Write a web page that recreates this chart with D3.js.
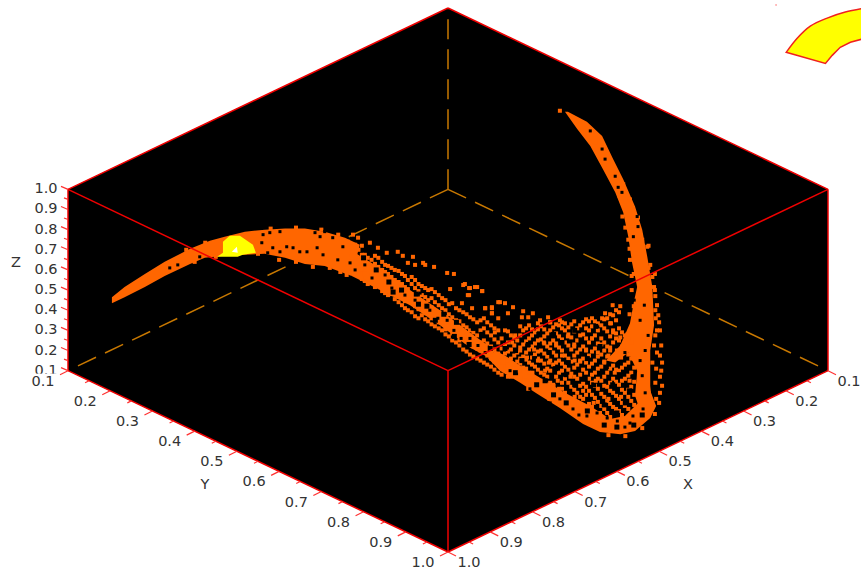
<!DOCTYPE html>
<html>
<head>
<meta charset="utf-8">
<script src="https://cdn.jsdelivr.net/npm/d3@7"></script>
<style>
    html, body { margin: 0; padding: 0; background: #fff; }
    svg { display: block; }
    text { font-family: "DejaVu Sans", sans-serif; font-size: 14.5px; fill: #333; }
</style>
</head>
<body>
<svg id="chart" width="861" height="572"></svg>
<script>
// axis ticks
const tickValues = [0.1, 0.2, 0.3, 0.4, 0.5, 0.6, 0.7, 0.8, 0.9, 1.0];
const tickLabels = ["0.1", "0.2", "0.3", "0.4", "0.5", "0.6", "0.7", "0.8", "0.9", "1.0"];
const minorValues = [0.15, 0.25, 0.35, 0.45, 0.55, 0.65, 0.75, 0.85, 0.95];

const leftBand = [[-.796,.635],[-.766,.585],[-.718,.52],[-.671,.46],[-.611,.395],[-.564,.355],[-.529,.335],[-.481,.31],[-.434,.30],[-.386,.295],[-.339,.295],[-.292,.31],[-.244,.34],[-.209,.375],[-.228,.53],[-.292,.48],[-.339,.47],[-.386,.44],[-.434,.42],[-.481,.425],[-.529,.43],[-.576,.44],[-.611,.47],[-.671,.53],[-.718,.585],[-.766,.635],[-.796,.665]];
const middleBand = [[-.232,.40],[-.161,.49],[-.09,.60],[-.019,.70],[.052,.81],[.111,.90],[.10,.94],[.052,.885],[-.019,.775],[-.09,.675],[-.161,.60],[-.228,.53]];
const bowlBand = [[.095,.94],[.123,1.0],[.171,1.06],[.211,1.115],[.265,1.185],[.32,1.265],[.36,1.305],[.408,1.315],[.443,1.30],[.479,1.235],[.493,1.175],[.479,1.10],[.455,1.15],[.419,1.225],[.384,1.24],[.337,1.175],[.277,1.11],[.218,1.035],[.171,.975],[.135,.925],[.111,.90]];
const rightBand = [[.277,-.285],[.306,-.20],[.337,-.115],[.367,0],[.396,.115],[.415,.215],[.427,.335],[.436,.465],[.448,.585],[.441,.65],[.431,.765],[.408,.875],[.374,.95],[.396,.96],[.427,.91],[.448,1.0],[.443,1.125],[.455,1.2],[.484,1.175],[.479,1.075],[.479,.90],[.488,.775],[.484,.585],[.472,.435],[.46,.30],[.443,.185],[.415,.05],[.391,-.05],[.365,-.165],[.329,-.235],[.284,-.285]];
const yellowPatch = [[-.547,.435],[-.533,.415],[-.533,.36],[-.517,.33],[-.493,.33],[-.462,.375],[-.455,.415],[-.486,.425],[-.498,.435]];
const whitePatch = [[-.512,.41],[-.50,.385],[-.498,.415]];

// scattered points, one list of view heights per column
const cloudColumns = [
    [-.220,[.41,.44,.48,.515]],[-.204,[.425,.465,.50,.545]],[-.19,[.44,.49,.57]],[-.173,[.43,.47,.51,.55,.585]],
    [-.156,[.46,.50,.54,.605]],[-.142,[.48,.52,.57,.625]],[-.126,[.50,.55,.60,.645]],[-.109,[.52,.57,.615,.675]],
    [-.095,[.55,.595,.635,.70]],[-.078,[.55,.59,.64,.68,.73]],[-.062,[.58,.625,.665,.725]],[-.047,[.60,.65,.695,.755]],
    [-.031,[.61,.66,.72,.78]],[-.014,[.64,.69,.74,.80]],[.002,[.67,.72,.775,.83]],[.019,[.69,.75,.80,.86]],
    [.036,[.71,.775,.835,.895]],[.052,[.735,.80,.87,.92]],[.069,[.76,.825,.89,.94]],[.085,[.74,.79,.85,.91,.96]],
    [.102,[.775,.825,.88,.94,.98]],[.119,[.80,.86,.915,.97,1.01]],
    [.135,[.875,.915,.96]],[.149,[.825,.895,.94,.99]],[.164,[.85,.91,.955]],[.178,[.80,.87,.93,.985]],
    [.192,[.775,.84,.895,.96,1.01]],[.206,[.81,.865,.92,.98]],[.22,[.78,.845,.90,.95,1.01,1.05]],[.235,[.815,.88,.93,.99,1.03]],
    [.249,[.785,.85,.91,.97,1.07]],[.263,[.775,.83,.885,.95,1.01,1.09]],[.277,[.80,.86,.925,.98,1.04,1.11]],
    [.292,[.77,.835,.895,.955,1.015,1.08]],[.306,[.79,.85,.91,.97,1.04,1.11]],[.32,[.76,.82,.88,.94,.995,1.065,1.14]],
    [.334,[.755,.80,.86,.925,.98,1.04,1.10,1.165]],[.348,[.755,.825,.89,.95,1.01,1.075,1.135]],
    [.363,[.775,.84,.87,.92,.98,1.05,1.115,1.175]],[.377,[.74,.805,.88,.93,1.01,1.08,1.15,1.21]],
    [.391,[.725,.80,.86,.975,1.04,1.11,1.18]],[.405,[.71,.79,.85,1.0,1.07,1.14,1.20]],
    [.419,[.825,.90,.97,1.04,1.11,1.175]],[.434,[.86,.94,1.01,1.08,1.15]]
];
const cloudColumnsB = [
    [-.228,[.385,.43,.46,.50]],[-.212,[.40,.455,.49,.525]],[-.197,[.425,.455,.52,.555]],[-.181,[.45,.49,.53,.565]],
    [-.165,[.44,.485,.525,.575]],[-.149,[.475,.51,.555,.59,.615]],[-.134,[.49,.535,.58,.62]],[-.117,[.505,.56,.60,.635,.66]],
    [-.102,[.53,.585,.625,.655,.69]],[-.086,[.535,.57,.62,.66,.71]],[-.07,[.57,.605,.65,.695,.74]],[-.054,[.59,.635,.68,.715,.745]],
    [-.039,[.595,.64,.685,.74,.77]],[-.022,[.625,.675,.71,.76,.79]],[-.006,[.65,.70,.745,.795,.82]],[.01,[.665,.735,.765,.815,.85]],
    [.027,[.70,.755,.79,.85,.875]],[.044,[.72,.785,.82,.855,.905]],[.06,[.745,.81,.845,.88,.93]],[.077,[.75,.80,.86,.90,.95]],
    [.093,[.76,.81,.865,.925,.97]],[.11,[.79,.845,.895,.955,.995]],[.127,[.84,.89,.93,.98,1.02]],
    [.142,[.805,.86,.905,.95,.975,1.03]],[.157,[.835,.875,.925,.97,1.02]],[.171,[.78,.825,.885,.94,.965,1.04]],
    [.185,[.79,.855,.91,.945,.99,1.05]],[.199,[.795,.825,.88,.935,.97,1.03,1.07]],[.213,[.765,.795,.85,.905,.94,.995,1.08]],
    [.228,[.795,.83,.865,.915,.965,1.02,1.09]],[.242,[.76,.80,.865,.895,.95,1.0,1.06,1.11]],[.256,[.77,.815,.865,.925,.96,1.03,1.12]],
    [.27,[.76,.79,.845,.90,.965,1.0,1.06,1.14]],[.285,[.785,.82,.875,.94,.995,1.06,1.15]],[.299,[.755,.805,.87,.925,.985,1.03,1.095,1.17]],
    [.313,[.775,.825,.895,.955,1.02,1.075,1.13,1.19]],[.327,[.745,.79,.84,.90,.96,1.01,1.08,1.12,1.21]],
    [.341,[.74,.78,.84,.905,.965,1.02,1.06,1.12,1.18,1.24]],[.355,[.765,.80,.865,.93,.99,1.04,1.09,1.155,1.22]],
    [.37,[.745,.79,.86,.90,.955,1.03,1.075,1.13,1.19,1.25]],[.384,[.72,.765,.83,.885,.99,1.06,1.10,1.165,1.23]],
    [.398,[.70,.75,.815,.84,.995,1.055,1.125,1.19,1.25]],[.412,[.81,.88,.985,1.05,1.095,1.16,1.22,1.27]],
    [.427,[.84,.92,.96,1.025,1.095,1.13,1.19,1.25]],[.441,[.94,.985,1.055,1.12,1.17,1.24]]
];
const bowlClumps = [[.152,.86],[.171,.90],[.187,.935],[.204,.895],[.213,.95],[.227,.86],[.239,.96],[.256,.875],[.27,.925],[.284,.83],[.299,.88],[.313,.95],[.327,.895],[.341,.84],[.355,.91],[.37,.96],[.384,.90],[.395,1.01],[.41,.935],[.23,1.0],[.26,1.05],[.29,1.03],[.32,1.10],[.35,1.05],[.38,1.14],[.41,1.13],[.43,1.05],[.30,.95],[.27,1.09],[.345,1.16],[.2,1.01],[.17,1.0]];
const loosePoints = [[-.225,.325],[-.213,.34],[-.237,.36],[-.22,.375],[-.204,.38],[-.185,.365],[-.166,.39],[-.145,.415],[-.119,.41],[-.107,.43],[-.083,.435],[-.095,.465],[-.078,.475],[-.059,.465],[-.054,.475],[-.033,.485],[-.002,.515],[.014,.52],[.036,.575],[.052,.59],[.069,.585],[.081,.605],[.047,.625],[.088,.69],[.104,.685],[.104,.715],[.119,.66],[.005,.595],
    [.04,.57],[.064,.585],[.05,.59],[.081,.605],[.05,.625],[.033,.665],[.057,.69],[.088,.69],[.104,.69],[.104,.715],[.123,.66],[.135,.665],[.154,.685],[.142,.715],[.178,.705],[.201,.715],[.119,.74],[.175,.735],[.19,.735],[.218,.75],[.237,.735],[.242,.76],[.265,.75],[.277,.765],[.135,.80],[.159,.825],[.111,.81],
    [.39,.675],[.408,.68],[.372,.715],[.365,.74],[.386,.765],[.391,.81],[.408,.835],
    [.491,.63],[.495,.675],[.498,.725],[.502,.80],[.491,.825],[.505,.875],[.495,.91],[.507,.96],[.493,.99],[.502,1.03],[.507,1.075],[.491,1.06],[.502,1.11],[.493,1.14],[.484,.96],[.488,.875],[.50,.76],[.502,.925],[.505,1.0],[.491,.70],
    [.265,-.29],[.413,.235],[.427,.35],[.431,.45],[.484,.535],[.488,.585],[.479,.475],[.472,.385],[.431,.15],[.415,.075],[.44,.52],[.435,.60],[.49,.60],[.445,.42]
];
// rough rims of the dense parts
const rimPoints = [[-.62,.40],[-.575,.365],[-.60,.46],[-.55,.435],[-.42,.295],[-.36,.29],[-.30,.30],[-.26,.325],[-.45,.42],[-.40,.45],[-.36,.46],[-.32,.485],[-.28,.49],[-.255,.51],[-.24,.525],
    [.325,-.175],[.35,-.13],[.38,-.02],[.40,.04],[.405,.13],[.42,.16],[.43,.245],[.42,.29],[.45,.24],[.46,.35],[.475,.38],[.43,.395],[.475,.49],[.435,.53],[.49,.52],
    [.44,.68],[.43,.72],[.492,.74],[.425,.82],[.495,.80],[.40,.90],[.38,.925],
    [.15,1.03],[.19,1.09],[.24,1.14],[.29,1.20],[.335,1.265],[.38,1.32],[.42,1.325],[.46,1.285],[.49,1.215],[.50,1.16],[.36,1.21],[.30,1.13],[.25,1.075]];
// places inside the bands where the black shows through
const gapPoints = [[-.659,.49],[-.64,.475],[-.588,.435],[-.438,.325],[-.422,.315],[-.398,.31],[-.441,.365],[-.415,.39],[-.382,.385],[-.367,.39],[-.398,.41],[-.427,.415],[-.315,.315],[-.292,.31],[-.303,.335],[-.273,.34],[-.334,.41],[-.31,.39],[-.296,.425],[-.261,.45],[-.232,.465],[-.22,.50],[-.249,.385],[-.351,.41],
    [-.197,.475],[-.18,.54],[-.149,.525],[-.133,.59],[-.102,.625],[-.078,.65],[-.066,.615],[-.043,.70],[-.024,.74],[-.002,.75],[.014,.80],[.031,.84],[.052,.84],[.071,.875],[.088,.91],
    [.337,-.19],[.372,-.05],[.365,-.10],[.396,.035],[.403,.09],[.412,.115],[.448,.235],[.45,.285],[.439,.335],
    [.441,.65],[.465,.675],[.455,.75],[.474,.825],[.467,.90],[.455,.95],[.46,1.025],[.467,1.11],[.419,.91],
    [.329,1.225],[.353,1.21],[.377,1.235],[.401,1.25],[.431,1.26],[.438,1.225],[.296,1.19],[.242,1.16],[.194,1.09],[.147,1.0],[.265,1.14],[.31,1.22],[.419,1.28],[.462,1.19]];
const wideGaps = [[.16,.90],[.19,.87],[.215,.82],[.24,.91],[.255,.99],[.27,.86],[.285,.96],[.30,1.07],[.315,.85],[.33,.94],[.345,1.07],[.36,.88],[.375,.98],[.39,1.07],[.405,1.02],[.42,1.16],[.43,1.10],[.35,.78],[.30,.80],[.25,.82],[.205,.94],[.23,1.05],[.28,1.02],[.325,1.04],[.37,1.17],[.40,1.21],[.44,1.03],[.175,.95],[.135,.89],
    [-.17,.50],[-.14,.56],[-.11,.60],[-.075,.62],[-.05,.68],[-.01,.72],[.02,.76],[.05,.87],[.08,.82],[.10,.89],[-.2,.44],[-.13,.61],[-.07,.67],[-.03,.75],[.015,.83],[.06,.79],
    [.16,1.01],[.21,1.07],[.25,1.12],[.28,1.16],[.33,1.2],[.37,1.27],[.40,1.28],[.44,1.27],[.46,1.22]];
// the piece of a second view in the top right corner
const sectorOuter = [[.801,-.58],[.827,-.65],[.858,-.71],[.898,-.75],[.941,-.78],[.988,-.80]];
const sectorInner = [[.988,-.65],[.953,-.63],[.929,-.605],[.91,-.565],[.894,-.525]];
const speck = [[.777,-.815]];

const svg = d3.select("svg#chart");
const red = "#f00000";
const orange = "#ff6600";

const hScale = d3.scaleLinear().domain([-0.9, 0.9]).range([68, 828]);
const vScale = d3.scaleLinear().domain([-0.8, 1.9]).range([8, 552]);
const project = (x, y, z) => [hScale(y - x), vScale(x + y - z)];
const viewLine = d3.line().x(d => hScale(d[0])).y(d => vScale(d[1]));
const closedLine = pts => viewLine(pts) + "Z";

function edge(a, b, color, dash) {
    const p = project(a[0], a[1], a[2]), q = project(b[0], b[1], b[2]);
    const l = svg.append("line")
        .attr("x1", p[0]).attr("y1", p[1])
        .attr("x2", q[0]).attr("y2", q[1])
        .attr("stroke", color).attr("stroke-width", 1.5);
    if (dash) l.attr("stroke-dasharray", "20,10");
}

function squares(pts, size, color) {
    svg.append("g").selectAll("rect").data(pts).join("rect")
        .attr("x", d => hScale(d[0]) - size / 2)
        .attr("y", d => vScale(d[1]) - size / 2)
        .attr("width", size).attr("height", size)
        .attr("fill", color);
}

// black body of the box
const outline = [[.1, .1, 1], [.1, 1, 1], [.1, 1, .1], [1, 1, .1], [1, .1, .1], [1, .1, 1]];
svg.append("path")
    .attr("d", "M" + outline.map(c => project(c[0], c[1], c[2]).join(",")).join("L") + "Z")
    .attr("fill", "#000");

// hidden edges go under the points
edge([.1, .1, .1], [.1, .1, 1], "#c87800", true);
edge([.1, .1, .1], [1, .1, .1], "#c87800", true);
edge([.1, .1, .1], [.1, 1, .1], "#c87800", true);

// the cloud
[leftBand, middleBand, bowlBand, rightBand].forEach(pts => {
    svg.append("path").attr("d", closedLine(pts)).attr("fill", orange);
});

const cloud = [];
cloudColumns.concat(cloudColumnsB).forEach(c => c[1].forEach(v => cloud.push([c[0], v])));
loosePoints.concat(rimPoints).forEach(p => cloud.push(p));
squares(cloud, 4, orange);
squares(wideGaps, 5, "#000");
squares(bowlClumps, 4, orange);
squares(gapPoints, 3, "#000");

svg.append("path").attr("d", closedLine(yellowPatch)).attr("fill", "#ffff00");
svg.append("path").attr("d", closedLine(whitePatch)).attr("fill", "#fff");

// visible edges, these sit on top of the points
const boxEdges = [
    [[.1, .1, 1], [.1, 1, 1]], [[.1, .1, 1], [1, .1, 1]],
    [[.1, 1, 1], [1, 1, 1]], [[1, .1, 1], [1, 1, 1]],
    [[1, 1, 1], [1, 1, .1]],
    [[.1, 1, 1], [.1, 1, .1]], [[1, .1, 1], [1, .1, .1]],
    [[.1, 1, .1], [1, 1, .1]], [[1, .1, .1], [1, 1, .1]]
];
boxEdges.forEach(e => edge(e[0], e[1], red, false));

// ticks, major and half length minor
function tick(pos, dx, dy) {
    svg.append("line")
        .attr("x1", pos[0]).attr("y1", pos[1])
        .attr("x2", pos[0] + dx).attr("y2", pos[1] + dy)
        .attr("stroke", "#ff3030").attr("stroke-width", 1.2);
}
tickValues.forEach(t => {
    tick(project(1, .1, t), -7, -3);
    tick(project(1, t, .1), -8, 4);
    tick(project(t, 1, .1), 8, 4);
});
minorValues.forEach(t => {
    tick(project(1, .1, t), -4, -1.5);
    tick(project(1, t, .1), -4, 2);
    tick(project(t, 1, .1), 4, 2);
});

function label(pos, dx, dy, str) {
    svg.append("text")
        .attr("x", pos[0] + dx).attr("y", pos[1] + dy)
        .attr("text-anchor", "middle").attr("dominant-baseline", "central")
        .text(str);
}
tickLabels.forEach((s, i) => label(project(1, .1, tickValues[i]), -22, -1, s));
// the first Y label is printed over the bottom of the Z one
const firstY = project(1, .1, .1);
svg.append("rect")
    .attr("x", firstY[0] - 39).attr("y", firstY[1] + 3)
    .attr("width", 28).attr("height", 16).attr("fill", "#fff");
tickLabels.forEach((s, i) => {
    label(project(1, tickValues[i], .1), -25, 10, s);
    label(project(tickValues[i], 1, .1), 21, 10, s);
});
label(project(1, .1, .55), -52, -18, "Z");
label(project(1, .55, .1), -53, 23, "Y");
label(project(.55, 1, .1), 50, 23, "X");

// corner piece
svg.append("path")
    .attr("d", d3.line().x(d => hScale(d[0])).y(d => vScale(d[1])).curve(d3.curveCatmullRom)(sectorOuter)
        + "L" + viewLine(sectorInner).slice(1) + "Z")
    .attr("fill", "#ffff00").attr("stroke", "#f02020").attr("stroke-width", 1.5);
squares(speck, 1.5, "#ff9090");
</script>
</body>
</html>
